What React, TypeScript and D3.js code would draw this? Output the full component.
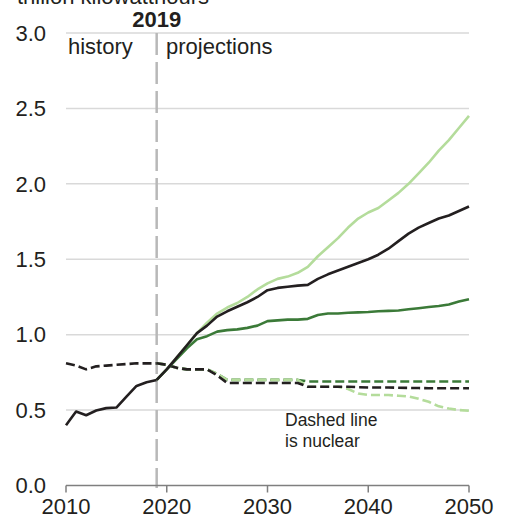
import React from "react";
import * as d3 from "d3";

const histYears = [2010, 2011, 2012, 2013, 2014, 2015, 2016, 2017, 2018, 2019];
const histTotal = [0.40, 0.49, 0.466, 0.497, 0.513, 0.517, 0.59, 0.66, 0.685, 0.70];
const histNuclear = [0.81, 0.795, 0.77, 0.79, 0.795, 0.80, 0.805, 0.81, 0.81, 0.81];

const projYears = d3.range(2019, 2051);
const refTotal = [0.70, 0.77, 0.85, 0.93, 1.01, 1.06, 1.12, 1.155, 1.185, 1.215, 1.25, 1.295, 1.31, 1.318, 1.325, 1.33, 1.37, 1.40, 1.425, 1.45, 1.475, 1.50, 1.53, 1.57, 1.62, 1.67, 1.71, 1.74, 1.77, 1.79, 1.82, 1.85];
const highTotal = [0.70, 0.77, 0.85, 0.93, 1.01, 1.08, 1.14, 1.18, 1.21, 1.25, 1.30, 1.34, 1.37, 1.385, 1.41, 1.45, 1.52, 1.58, 1.64, 1.71, 1.77, 1.81, 1.84, 1.89, 1.94, 2.00, 2.07, 2.14, 2.22, 2.29, 2.37, 2.45];
const lowTotal = [0.70, 0.77, 0.84, 0.91, 0.97, 0.99, 1.02, 1.03, 1.035, 1.045, 1.06, 1.09, 1.095, 1.10, 1.10, 1.105, 1.13, 1.14, 1.14, 1.145, 1.148, 1.15, 1.155, 1.158, 1.16, 1.168, 1.175, 1.183, 1.19, 1.20, 1.22, 1.235];
const refNuclear = [0.81, 0.80, 0.78, 0.77, 0.77, 0.77, 0.73, 0.68, 0.68, 0.68, 0.68, 0.68, 0.68, 0.68, 0.68, 0.655, 0.655, 0.655, 0.655, 0.655, 0.652, 0.65, 0.65, 0.65, 0.648, 0.647, 0.646, 0.645, 0.645, 0.645, 0.645, 0.645];
const lowNuclear = [0.81, 0.80, 0.78, 0.77, 0.77, 0.77, 0.74, 0.70, 0.70, 0.70, 0.70, 0.70, 0.70, 0.70, 0.70, 0.69, 0.69, 0.69, 0.69, 0.69, 0.69, 0.69, 0.69, 0.69, 0.69, 0.69, 0.69, 0.69, 0.69, 0.69, 0.69, 0.69];
const highNuclear = [0.81, 0.80, 0.78, 0.77, 0.77, 0.77, 0.74, 0.70, 0.70, 0.70, 0.70, 0.70, 0.70, 0.70, 0.70, 0.655, 0.655, 0.655, 0.655, 0.64, 0.61, 0.60, 0.60, 0.60, 0.595, 0.59, 0.575, 0.555, 0.525, 0.51, 0.50, 0.495];

const yTicks = [0, 0.5, 1.0, 1.5, 2.0, 2.5, 3.0];
const xTicks = [2010, 2020, 2030, 2040, 2050];

const BLACK = "#231f20";
const DARK = "#3b7a38";
const LIGHT = "#b4dc9b";
const FONT = "'Liberation Sans', Arial, sans-serif";

export default function App() {
  const x = d3.scaleLinear().domain([2010, 2050]).range([66, 469]);
  const y = d3.scaleLinear().domain([0, 3]).range([485.5, 33]);
  const line = (xs: number[], vs: number[]) =>
    d3.line<number>().x((_, i) => x(xs[i])).y((v) => y(v))(vs) || "";

  const series = [
    { d: line(projYears, lowNuclear), c: DARK, dash: true },
    { d: line(projYears, highNuclear), c: LIGHT, dash: true },
    { d: line(projYears, refNuclear), c: BLACK, dash: true },
    { d: line(histYears, histNuclear), c: BLACK, dash: true },
    { d: line(projYears, highTotal), c: LIGHT, dash: false },
    { d: line(projYears, lowTotal), c: DARK, dash: false },
    { d: line(projYears, refTotal), c: BLACK, dash: false },
    { d: line(histYears, histTotal), c: BLACK, dash: false },
  ];

  return (
    <svg width={510} height={525} style={{ position: "absolute", left: 0, top: 0 }} fontFamily={FONT}>
      <rect width={510} height={525} fill="#fff" />
      {yTicks.filter((t) => t > 0).map((t) => (
        <line key={t} x1={66} x2={469} y1={y(t)} y2={y(t)} stroke="#d9d9d9" strokeWidth={1.5} />
      ))}
      {yTicks.map((t) => (
        <text key={t} x={46} y={y(t)} dy="0.35em" textAnchor="end" fontSize={22} fill="#231f20">
          {t.toFixed(1)}
        </text>
      ))}
      <line x1={x(2019)} x2={x(2019)} y1={33} y2={488} stroke="#b8b8b8" strokeWidth={2.5} strokeDasharray="22 7" />
      <line x1={66} x2={469} y1={y(0)} y2={y(0)} stroke="#7f7f7f" strokeWidth={1.5} />
      {xTicks.map((t) => (
        <g key={t}>
          <line x1={x(t)} x2={x(t)} y1={y(0)} y2={y(0) + 7} stroke="#7f7f7f" strokeWidth={1.5} />
          <text x={x(t)} y={514} textAnchor="middle" fontSize={22} fill="#231f20">{t}</text>
        </g>
      ))}
      {series.map((s, i) => (
        <path key={i} d={s.d} fill="none" stroke={s.c} strokeWidth={2.6}
          strokeDasharray={s.dash ? "9 4" : undefined} strokeLinejoin="round" />
      ))}
      <text x={17} y={4} fontSize={22} fill="#231f20">trillion kilowatthours</text>
      <text x={x(2019)} y={27} textAnchor="middle" fontSize={22} fontWeight="bold" fill="#231f20">2019</text>
      <text x={68} y={54} fontSize={22} fill="#231f20">history</text>
      <text x={166} y={54} fontSize={22} fill="#231f20">projections</text>
      <text x={285} y={426} fontSize={17.5} fill="#231f20">Dashed line</text>
      <text x={285} y={447} fontSize={17.5} fill="#231f20">is nuclear</text>
    </svg>
  );
}
